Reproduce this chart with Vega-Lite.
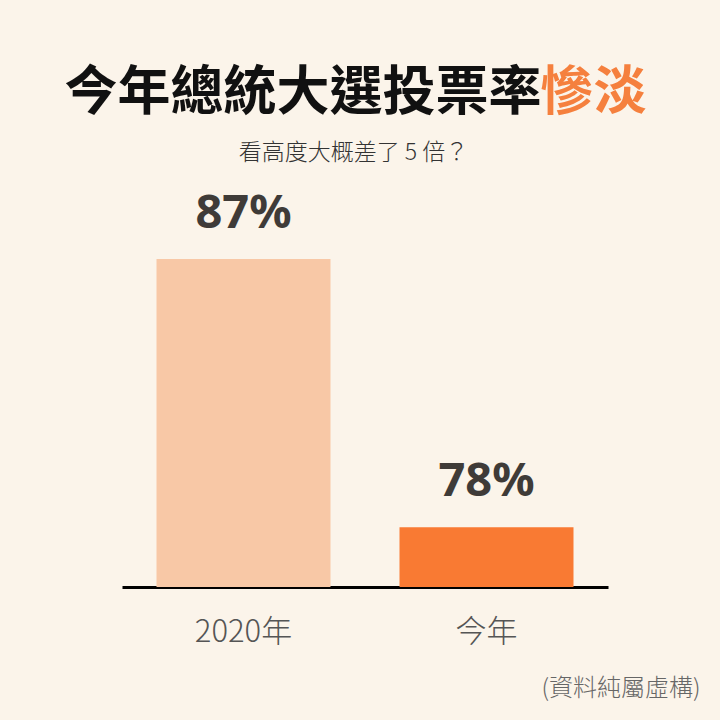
{
  "$schema": "https://vega.github.io/schema/vega-lite/v6.json",
  "autosize": "none",
  "width": 486,
  "height": 328,
  "padding": {"left": 122, "top": 259, "right": 112, "bottom": 133},
  "background": "#FBF4EA",
  "config": {
    "view": {"stroke": null},
    "font": "Noto Sans CJK TC"
  },
  "data": {
    "values": [
      {"year": "2020年", "rate": 87, "label": "87%"},
      {"year": "今年", "rate": 78, "label": "78%"}
    ]
  },
  "encoding": {
    "x": {
      "field": "year",
      "type": "nominal",
      "sort": null,
      "scale": {"paddingInner": 0.284, "paddingOuter": 0.142}
    }
  },
  "layer": [
    {
      "mark": {"type": "bar"},
      "encoding": {
        "x": {
          "field": "year",
          "type": "nominal",
          "sort": null,
          "axis": {
            "title": "(資料純屬虛構)",
            "titleX": 578,
            "titleY": 101,
            "titleAlign": "right",
            "titleBaseline": "middle",
            "titleAnchor": null,
            "titleFontSize": 24,
            "titleFontWeight": 300,
            "titleColor": "#666666",
            "labelAngle": 0,
            "labelFontSize": 31,
            "labelFontWeight": 300,
            "labelColor": "#555555",
            "labelPadding": 30,
            "labelBaseline": "top",
            "ticks": false,
            "domainColor": "#000000",
            "domainWidth": 3
          }
        },
        "y": {
          "field": "rate",
          "type": "quantitative",
          "scale": {"domain": [76, 87], "zero": false, "nice": false},
          "axis": {
            "title": "慘淡",
            "titleX": 471,
            "titleY": -166,
            "titleAngle": 0,
            "titleAlign": "center",
            "titleBaseline": "middle",
            "titleAnchor": null,
            "titleFontSize": 53,
            "titleFontWeight": "bold",
            "titleColor": "#F5803E",
            "labels": false,
            "ticks": false,
            "domain": false,
            "grid": false
          }
        },
        "y2": {"datum": 76},
        "color": {
          "field": "year",
          "type": "nominal",
          "sort": null,
          "scale": {"domain": ["2020年", "今年"], "range": ["#F8C8A6", "#F97A33"]},
          "legend": null
        }
      }
    },
    {
      "mark": {"type": "text", "baseline": "bottom", "dy": -21, "fontSize": 47, "fontWeight": "bold", "font": "Noto Sans", "color": "#3F3B38"},
      "encoding": {
        "x": {
          "field": "year",
          "type": "nominal",
          "sort": null,
          "axis": {
            "orient": "top",
            "title": "今年總統大選投票率",
            "titleX": -58,
            "titleY": -166,
            "titleAlign": "left",
            "titleBaseline": "middle",
            "titleAnchor": null,
            "titleFontSize": 53,
            "titleFontWeight": "bold",
            "titleColor": "#111111",
            "labels": false,
            "ticks": false,
            "domain": false
          }
        },
        "y": {
          "field": "rate",
          "type": "quantitative",
          "scale": {"domain": [76, 87], "zero": false, "nice": false},
          "axis": {
            "orient": "right",
            "title": "看高度大概差了 5 倍？",
            "titleX": -255,
            "titleY": -107,
            "titleAngle": 0,
            "titleAlign": "center",
            "titleBaseline": "middle",
            "titleAnchor": null,
            "titleFontSize": 23,
            "titleFontWeight": 300,
            "titleColor": "#333333",
            "labels": false,
            "ticks": false,
            "domain": false,
            "grid": false
          }
        },
        "text": {"field": "label"}
      }
    }
  ],
  "resolve": {"axis": {"x": "independent", "y": "independent"}}
}
